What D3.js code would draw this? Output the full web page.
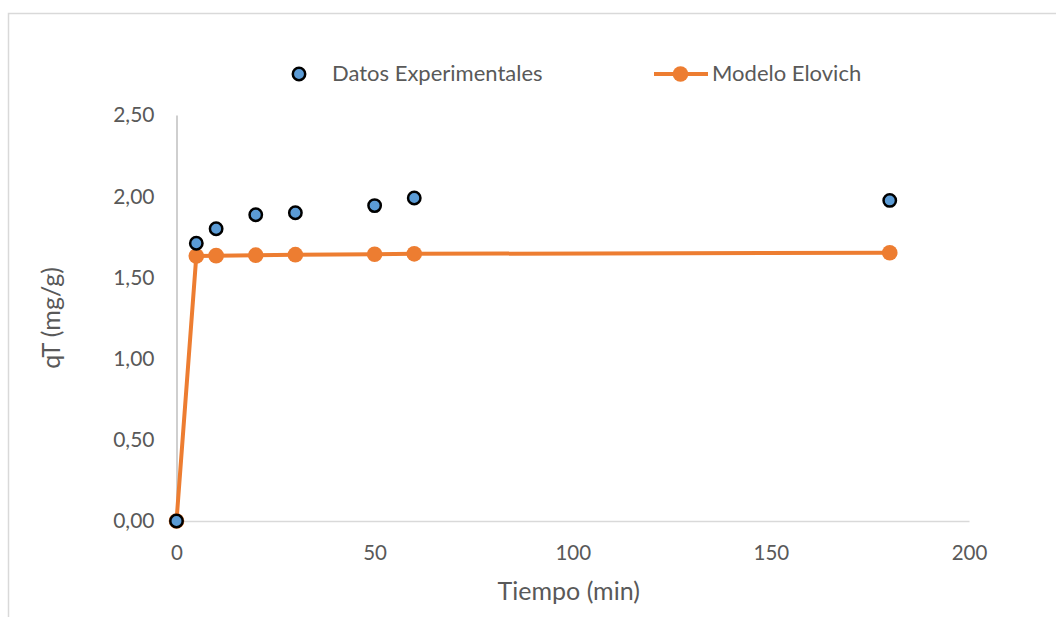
<!DOCTYPE html>
<html>
<head>
<meta charset="utf-8">
<script src="https://cdn.jsdelivr.net/npm/d3@7"></script>
<style>
  html, body { margin: 0; padding: 0; background: #fff; }
  svg { display: block; }
  text { font-family: Lato, "Open Sans", sans-serif; fill: #595959; }
</style>
</head>
<body>
<svg id="chart" width="1056" height="617"></svg>
<script>
// Kinetic data: time (min) vs adsorbed quantity qT (mg/g)
const tiempo = [0, 5, 10, 20, 30, 50, 60, 180];
const datosExperimentales = [0, 1.71, 1.80, 1.886, 1.898, 1.942, 1.989, 1.974];
const modeloElovich = [0, 1.632, 1.634, 1.637, 1.640, 1.643, 1.645, 1.652];
const xTicks = [0, 50, 100, 150, 200];
const yTicks = [0, 0.5, 1.0, 1.5, 2.0, 2.5];
const seriesNames = ["Datos Experimentales", "Modelo Elovich"];

const svg = d3.select("#chart");
const W = 1056, H = 617;

// chart area frame
svg.append("rect")
  .attr("x", 8.5).attr("y", 13.5)
  .attr("width", W).attr("height", H)
  .attr("fill", "#fff").attr("stroke", "#d9d9d9").attr("stroke-width", 1.5);

const x = d3.scaleLinear().domain([0, 200]).range([176.5, 969]);
const y = d3.scaleLinear().domain([0, 2.5]).range([521, 115]);

const fmt = d => d3.format(".2f")(d).replace(".", ",");

// y axis
const yAxis = svg.append("g").attr("transform", `translate(${x(0)},0)`)
  .call(d3.axisLeft(y).tickValues(yTicks).tickSize(0).tickPadding(22).tickFormat(fmt));
yAxis.select(".domain").attr("stroke", "#bfbfbf").attr("stroke-width", 1.5);
yAxis.selectAll("text")
  .style("font-size", "21px").attr("fill", "#595959")
  .style("font-family", "Lato, sans-serif")
  .attr("dy", "0.33em");

// x axis
const xAxis = svg.append("g").attr("transform", `translate(0,${y(0)})`)
  .call(d3.axisBottom(x).tickValues(xTicks).tickSize(0).tickFormat(d3.format("d")));
xAxis.select(".domain").attr("stroke", "#d9d9d9").attr("stroke-width", 1.5);
xAxis.selectAll("text")
  .style("font-size", "20.5px").attr("fill", "#595959")
  .style("font-family", "Lato, sans-serif")
  .attr("y", 39).attr("dy", 0);

// axis titles
svg.append("text")
  .attr("x", x(100) - 4).attr("y", 600)
  .attr("text-anchor", "middle")
  .style("font-size", "25px")
  .text("Tiempo (min)");

svg.append("text")
  .attr("transform", `translate(60,${(y(0) + y(2.5)) / 2}) rotate(-90)`)
  .attr("text-anchor", "middle")
  .style("font-size", "25px")
  .text("qT (mg/g)");

const orange = "#ED7D31";
const blue = "#5B9BD5";

// Elovich model line and markers
const pts = tiempo.map((t, i) => ({ t, q: modeloElovich[i] }));
svg.append("path")
  .datum(pts)
  .attr("fill", "none")
  .attr("stroke", orange)
  .attr("stroke-width", 4)
  .attr("stroke-linejoin", "round")
  .attr("d", d3.line().x(d => x(d.t)).y(d => y(d.q)));

svg.append("g").selectAll("circle")
  .data(pts)
  .join("circle")
  .attr("cx", d => x(d.t)).attr("cy", d => y(d.q))
  .attr("r", 7.8)
  .attr("fill", orange);

// experimental points
svg.append("g").selectAll("circle")
  .data(tiempo.map((t, i) => ({ t, q: datosExperimentales[i] })))
  .join("circle")
  .attr("cx", d => x(d.t)).attr("cy", d => y(d.q))
  .attr("r", 6.2)
  .attr("fill", blue)
  .attr("stroke", "#000")
  .attr("stroke-width", 2.5);

// legend
const lg = svg.append("g");
lg.append("circle")
  .attr("cx", 299).attr("cy", 74).attr("r", 6.2)
  .attr("fill", blue).attr("stroke", "#000").attr("stroke-width", 2.5);
lg.append("text")
  .attr("x", 332).attr("y", 81)
  .style("font-size", "22px")
  .text(seriesNames[0]);

lg.append("line")
  .attr("x1", 654).attr("x2", 708).attr("y1", 74).attr("y2", 74)
  .attr("stroke", orange).attr("stroke-width", 4);
lg.append("circle")
  .attr("cx", 680.5).attr("cy", 74).attr("r", 7.8)
  .attr("fill", orange);
lg.append("text")
  .attr("x", 712).attr("y", 81)
  .style("font-size", "22px")
  .text(seriesNames[1]);
</script>
</body>
</html>
